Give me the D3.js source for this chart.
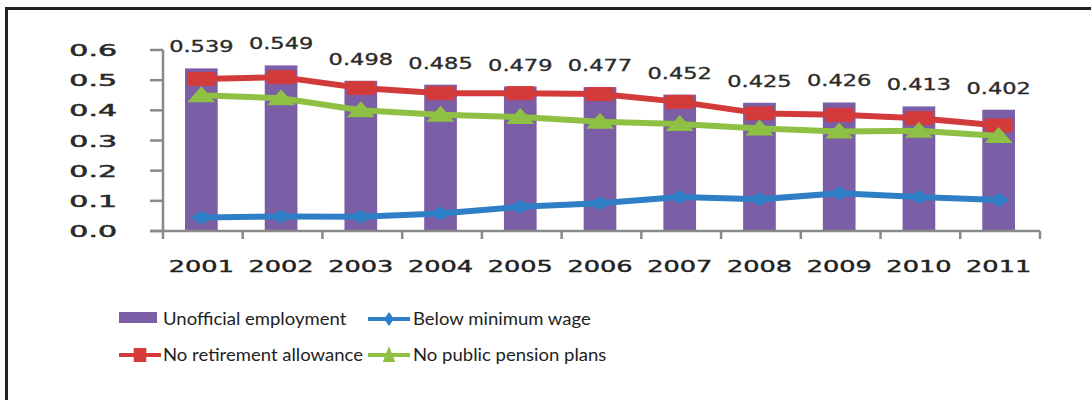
<!DOCTYPE html>
<html>
<head>
<meta charset="utf-8">
<script src="https://cdn.jsdelivr.net/npm/d3@7"></script>
<style>
  body { margin: 0; background: #fff; }
  svg { display: block; }
</style>
</head>
<body>
<div id="chart"></div>
<script>
// Data
const years = ['2001', '2002', '2003', '2004', '2005', '2006', '2007', '2008', '2009', '2010', '2011'];
const unofficial = [0.539, 0.549, 0.498, 0.485, 0.479, 0.477, 0.452, 0.425, 0.426, 0.413, 0.402];
const belowMinWage = [0.045, 0.048, 0.047, 0.058, 0.08, 0.092, 0.113, 0.105, 0.125, 0.113, 0.103];
const noRetirement = [0.504, 0.51, 0.474, 0.457, 0.457, 0.454, 0.428, 0.39, 0.385, 0.374, 0.35];
const noPension = [0.45, 0.44, 0.40, 0.385, 0.378, 0.362, 0.355, 0.34, 0.33, 0.332, 0.315];
const yTicks = [0, 0.1, 0.2, 0.3, 0.4, 0.5, 0.6];
const legendLabels = ['Unofficial employment', 'Below minimum wage', 'No retirement allowance', 'No public pension plans'];

const colors = {
    bar: '#7b5ea6',
    blue: '#2f7fc6',
    red: '#d33b3b',
    green: '#8dc043'
};

const width = 1091, height = 400;

const svg = d3.select('#chart')
    .append('svg')
    .attr('width', width)
    .attr('height', height);

svg.append('rect').attr('width', width).attr('height', height).attr('fill', '#fff');

// outer frame (left + top only, as in the scan)
svg.append('path')
    .attr('d', `M6.5,${height} V8.5 H${width}`)
    .attr('fill', 'none')
    .attr('stroke', '#222')
    .attr('stroke-width', 3);

const x = d3.scaleBand().domain(years).range([163, 1040]).padding(0);
const y = d3.scaleLinear().domain([0, 0.6]).range([231, 50]);

const barW = x.bandwidth() * 0.41;
const cx = d => x(d) + x.bandwidth() / 2 - 1.5;

// text that is stretched horizontally like the scan
function stretched(g, tx, ty, sx, txt) {
    return g.append('text')
        .attr('transform', `translate(${tx},${ty}) scale(${sx},1)`)
        .text(txt);
}

// bars
svg.append('g').selectAll('rect')
    .data(years)
    .enter()
    .append('rect')
    .attr('x', (d) => cx(d) - barW / 2)
    .attr('y', (d, i) => y(unofficial[i]))
    .attr('width', barW)
    .attr('height', (d, i) => y(0) - y(unofficial[i]))
    .attr('fill', colors.bar);

// axes
const axisColor = '#8a8a8a';
const yAxis = svg.append('g');
yAxis.append('line')
    .attr('x1', 163).attr('x2', 163)
    .attr('y1', y(0.6)).attr('y2', y(0))
    .attr('stroke', axisColor).attr('stroke-width', 2.5);
yAxis.selectAll('line.tick')
    .data(yTicks)
    .enter()
    .append('line')
    .attr('class', 'tick')
    .attr('x1', 150).attr('x2', 163)
    .attr('y1', d => y(d)).attr('y2', d => y(d))
    .attr('stroke', axisColor).attr('stroke-width', 2.5);

const yLab = svg.append('g')
    .attr('font-family', 'DejaVu Sans, Verdana, sans-serif')
    .attr('font-size', 15)
    .attr('fill', '#2a2a2a')
    .attr('stroke', '#2a2a2a').attr('stroke-width', 0.5)
    .attr('text-anchor', 'end');
yTicks.forEach(t => {
    stretched(yLab, 117, y(t) + 6, 2.0, d3.format('.1f')(t));
});

const xAxis = svg.append('g');
xAxis.append('line')
    .attr('x1', 150).attr('x2', 1040)
    .attr('y1', y(0)).attr('y2', y(0))
    .attr('stroke', axisColor).attr('stroke-width', 2.5);
const edges = years.map(d => x(d)).concat([x(years[years.length - 1]) + x.bandwidth()]);
xAxis.selectAll('line.tick')
    .data(edges)
    .enter()
    .append('line')
    .attr('class', 'tick')
    .attr('x1', d => d).attr('x2', d => d)
    .attr('y1', y(0)).attr('y2', y(0) + 8)
    .attr('stroke', axisColor).attr('stroke-width', 2.5);

const xLab = svg.append('g')
    .attr('font-family', 'DejaVu Sans, Verdana, sans-serif')
    .attr('font-size', 16)
    .attr('fill', '#222')
    .attr('stroke', '#222').attr('stroke-width', 0.4)
    .attr('text-anchor', 'middle');
years.forEach(d => {
    stretched(xLab, cx(d), 272, 1.6, d);
});

// lines
const line = d3.line().x(d => cx(d.year)).y(d => y(d.v));
function series(values, color) {
    const pts = years.map((yr, i) => ({ year: yr, v: values[i] }));
    svg.append('path')
        .datum(pts)
        .attr('d', line)
        .attr('fill', 'none')
        .attr('stroke', color)
        .attr('stroke-width', 6)
        .attr('stroke-linejoin', 'round');
    return pts;
}

const squarePath = 'M-14,-7 H14 V7 H-14 Z';
const trianglePath = 'M0,-9 L14,7 H-14 Z';
const diamondPath = 'M0,-7 L11,0 L0,7 L-11,0 Z';

const bluePts = series(belowMinWage, colors.blue);
svg.append('g').selectAll('path')
    .data(bluePts).enter().append('path')
    .attr('d', diamondPath)
    .attr('transform', d => `translate(${cx(d.year)},${y(d.v)})`)
    .attr('fill', colors.blue);

const redPts = series(noRetirement, colors.red);
svg.append('g').selectAll('path')
    .data(redPts).enter().append('path')
    .attr('d', squarePath)
    .attr('transform', d => `translate(${cx(d.year)},${y(d.v)})`)
    .attr('fill', colors.red);

const greenPts = series(noPension, colors.green);
svg.append('g').selectAll('path')
    .data(greenPts).enter().append('path')
    .attr('d', trianglePath)
    .attr('transform', d => `translate(${cx(d.year)},${y(d.v)})`)
    .attr('fill', colors.green);

// data labels above bars
const dLab = svg.append('g')
    .attr('font-family', 'DejaVu Sans, Verdana, sans-serif')
    .attr('font-size', 15)
    .attr('fill', '#2a2a2a')
    .attr('stroke', '#2a2a2a').attr('stroke-width', 0.3)
    .attr('text-anchor', 'middle');
years.forEach((d, i) => {
    stretched(dLab, cx(d), y(unofficial[i]) - 16, 1.5, d3.format('.3f')(unofficial[i]));
});

// legend
const leg = svg.append('g')
    .attr('font-family', 'Lato, "Open Sans", sans-serif')
    .attr('font-size', 17)
    .attr('fill', '#222');

leg.append('rect')
    .attr('x', 119).attr('y', 312).attr('width', 38).attr('height', 11)
    .attr('fill', colors.bar);
stretched(leg, 163, 325, 1.09, legendLabels[0]);

function legendLine(x0, yy, color, shape) {
    leg.append('line')
        .attr('x1', x0).attr('x2', x0 + 42)
        .attr('y1', yy).attr('y2', yy)
        .attr('stroke', color).attr('stroke-width', 4);
    leg.append('path')
        .attr('d', shape)
        .attr('transform', `translate(${x0 + 21},${yy}) scale(0.45,1)`)
        .attr('fill', color);
}

legendLine(368, 319, colors.blue, diamondPath);
stretched(leg, 413, 325, 1.09, legendLabels[1]);

legendLine(119, 355, colors.red, squarePath);
stretched(leg, 163, 361, 1.09, legendLabels[2]);

legendLine(368, 355, colors.green, trianglePath);
stretched(leg, 413, 361, 1.09, legendLabels[3]);
</script>
</body>
</html>
